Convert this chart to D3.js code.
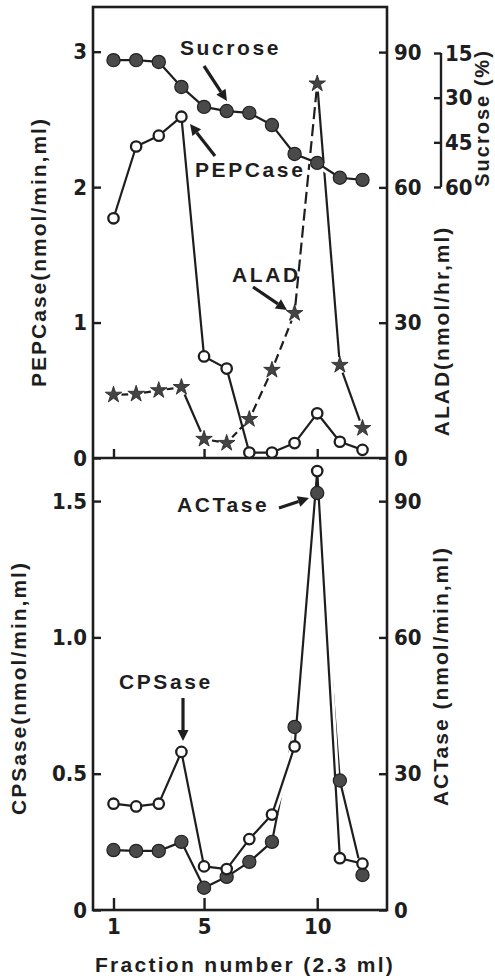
<!DOCTYPE html>
<html>
<head>
  <script src="https://d3js.org/d3.v7.min.js"></script>
  <style>
    body { margin: 0; background: #fff; }
    .axis text {
      font-family: "DejaVu Sans", "Liberation Sans Narrow", sans-serif;
      font-stretch: condensed;
      font-weight: bold;
      font-size: 22px;
      fill: #1e1e1e;
    }
    .axis line { stroke: #1e1e1e; stroke-width: 2.4px; }
    .axis path { display: none; }
    .title {
      font-family: "Liberation Sans", Arial, sans-serif;
      font-weight: bold;
      font-size: 21px;
      letter-spacing: 2px;
      fill: #1e1e1e;
    }
    .note {
      font-family: "Liberation Sans", Arial, sans-serif;
      font-weight: bold;
      font-size: 21px;
      letter-spacing: 2.6px;
      fill: #1e1e1e;
    }
  </style>
</head>
<body>
  <div id="chart"></div>
  <script>
    /*
    DATA (fractions of 2.3 ml)
    */
    var fractions = [1, 2, 3, 4, 5, 6, 7, 8, 9, 10, 11, 12];
    var sucrose  = [17.4, 17.4, 18.0, 26.4, 33.1, 34.5, 35.1, 39.2, 48.9, 51.9, 56.9, 57.6];   // %
    var pepcase  = [1.77, 2.30, 2.38, 2.52, 0.75, 0.66, 0.04, 0.04, 0.11, 0.33, 0.12, 0.06];   // nmol/min,ml
    var alad     = [14.0, 14.2, 15.0, 15.7, 4.2, 3.3, 8.6, 19.5, 32.1, 83.0, 20.6, 6.6];       // nmol/hr,ml
    var cpsase   = [0.39, 0.38, 0.39, 0.58, 0.16, 0.15, 0.26, 0.35, 0.60, 1.61, 0.19, 0.17];   // nmol/min,ml
    var actase   = [13.2, 13.0, 13.0, 15.0, 4.9, 7.3, 10.6, 15.0, 40.3, 91.8, 28.5, 7.7];      // nmol/min,ml

    var xTicks = [1, 5, 10];
    var pepTicks = [0, 1, 2, 3];
    var aladTicks = [0, 30, 60, 90];
    var sucTicks = [15, 30, 45, 60];
    var cpsTicks = [0, 0.5, 1.0, 1.5];
    var actTicks = [0, 30, 60, 90];

    var ink = "#1e1e1e";
    var width = 495, height = 980;
    var frameL = 93, frameR = 387, frameT = 7, frameM = 458, frameB = 910;

    var svg = d3.select("#chart").append("svg")
      .attr("width", width)
      .attr("height", height);

    /*
    SCALES
    */
    var x = d3.scaleLinear().domain([1, 12]).range([113.5, 362.5]);
    var yPep = d3.scaleLinear().domain([0, 3.33]).range([frameM, frameT]);
    var yAlad = d3.scaleLinear().domain([0, 100]).range([frameM, frameT]);
    var ySuc = d3.scaleLinear().domain([15, 60]).range([53, 187]);
    var yCps = d3.scaleLinear().domain([0, 1.658]).range([frameB, frameM]);
    var yAct = d3.scaleLinear().domain([0, 99.5]).range([frameB, frameM]);

    /*
    AXES (ticks point inward)
    */
    svg.append("g").attr("class", "axis")
      .attr("transform", `translate(${frameL},0)`)
      .call(d3.axisLeft(yPep).tickValues(pepTicks).tickSize(-8).tickPadding(6).tickFormat(d3.format("d")));
    svg.append("g").attr("class", "axis")
      .attr("transform", `translate(${frameR},0)`)
      .call(d3.axisRight(yAlad).tickValues(aladTicks).tickSize(-8).tickPadding(7).tickFormat(d3.format("d")));
    svg.append("g").attr("class", "axis")
      .attr("transform", `translate(${frameL},0)`)
      .call(d3.axisLeft(yCps).tickValues(cpsTicks).tickSize(-8).tickPadding(6)
        .tickFormat(function(d) { return d === 0 ? "0" : d3.format(".1f")(d); }));
    svg.append("g").attr("class", "axis")
      .attr("transform", `translate(${frameR},0)`)
      .call(d3.axisRight(yAct).tickValues(actTicks).tickSize(-8).tickPadding(7).tickFormat(d3.format("d")));

    // sucrose bracket axis
    var sucAxis = svg.append("g").attr("class", "axis")
      .attr("transform", "translate(441,0)")
      .call(d3.axisRight(ySuc).tickValues(sucTicks).tickSize(-7).tickPadding(4).tickFormat(d3.format("d")));
    sucAxis.append("line")
      .attr("x1", 0).attr("x2", 0)
      .attr("y1", ySuc(15)).attr("y2", ySuc(60))
      .attr("stroke", ink).attr("stroke-width", 2.4);

    // fraction ticks
    svg.append("g").attr("class", "axis")
      .attr("transform", `translate(0,${frameM})`)
      .call(d3.axisBottom(x).tickValues(xTicks).tickSize(-9).tickFormat(""));
    svg.append("g").attr("class", "axis")
      .attr("transform", `translate(0,${frameB})`)
      .call(d3.axisBottom(x).tickValues(xTicks).tickSize(-12).tickPadding(8).tickFormat(d3.format("d")));

    // frame
    var frame = svg.append("g").attr("stroke", ink).attr("stroke-width", 2.6).attr("fill", "none");
    frame.append("rect").attr("x", frameL).attr("y", frameT).attr("width", frameR - frameL).attr("height", frameB - frameT);
    frame.append("line").attr("x1", frameL).attr("x2", frameR).attr("y1", frameM).attr("y2", frameM);

    /*
    SERIES
    */
    function pts(vals, y) {
      return vals.map(function(v, i) { return [x(fractions[i]), y(v)]; });
    }

    function trim(p, q, g0, g1) {
      var dx = q[0] - p[0], dy = q[1] - p[1], len = Math.sqrt(dx * dx + dy * dy);
      var ux = dx / len, uy = dy / len;
      return [[p[0] + ux * g0, p[1] + uy * g0], [q[0] - ux * g1, q[1] - uy * g1]];
    }

    function drawLine(p, halo) {
      var line = d3.line();
      if (halo) {
        svg.append("path").attr("d", line(p)).attr("fill", "none")
          .attr("stroke", "#fff").attr("stroke-width", 8).attr("stroke-linejoin", "round");
      }
      svg.append("path").attr("d", line(p)).attr("fill", "none")
        .attr("stroke", ink).attr("stroke-width", 2.2).attr("stroke-linejoin", "round");
    }

    function drawFilled(p) {
      svg.append("g").selectAll("circle").data(p).enter().append("circle")
        .attr("cx", function(d) { return d[0]; })
        .attr("cy", function(d) { return d[1]; })
        .attr("r", 6.6)
        .attr("fill", "#4a4a4a")
        .attr("stroke", "#222").attr("stroke-width", 1.2);
    }

    function drawOpen(p) {
      svg.append("g").selectAll("circle").data(p).enter().append("circle")
        .attr("cx", function(d) { return d[0]; })
        .attr("cy", function(d) { return d[1]; })
        .attr("r", 5.2)
        .attr("fill", "#fff")
        .attr("stroke", ink).attr("stroke-width", 2.3);
    }

    // ALAD: broken lines between stars
    var aladPts = pts(alad, yAlad);
    var aladDash = ["", "", "", "", "", "7,4", "9,5", "9,5", "12,5", "", ""];
    for (var i = 0; i < aladPts.length - 1; i++) {
      var s = trim(aladPts[i], aladPts[i + 1], 8, 8);
      svg.append("line")
        .attr("x1", s[0][0]).attr("y1", s[0][1])
        .attr("x2", s[1][0]).attr("y2", s[1][1])
        .attr("stroke", ink).attr("stroke-width", 2.2)
        .attr("stroke-dasharray", aladDash[i] || null);
    }

    // PEPCase
    var pepPts = pts(pepcase, yPep);
    drawLine(pepPts, false);

    // Sucrose (drawn over the others with a white halo)
    var sucPts = pts(sucrose, ySuc);
    drawLine(sucPts, true);

    svg.append("g").selectAll("path").data(aladPts).enter().append("path")
      .attr("transform", function(d) { return `translate(${d[0]},${d[1]})`; })
      .attr("d", d3.symbol(d3.symbolStar).size(85)())
      .attr("fill", "#444").attr("stroke", "#222").attr("stroke-width", 0.8);
    drawOpen(pepPts);
    drawFilled(sucPts);

    // bottom panel
    var actPts = pts(actase, yAct);
    var cpsPts = pts(cpsase, yCps);
    drawLine(actPts, true);
    drawLine(cpsPts, true);
    drawFilled(actPts);
    drawOpen(cpsPts);

    /*
    AXIS TITLES
    */
    function vTitle(txt, cx, cy) {
      return svg.append("text").attr("class", "title")
        .attr("transform", `translate(${cx},${cy}) rotate(-90)`)
        .attr("text-anchor", "middle")
        .attr("dy", "0.36em")
        .text(txt);
    }
    vTitle("PEPCase(nmol/min,ml)", 38, 252);
    vTitle("ALAD(nmol/hr,ml)", 441, 331);
    vTitle("Sucrose (%)", 482, 118).style("font-size", "20px");
    vTitle("CPSase(nmol/min,ml)", 18, 688);
    vTitle("ACTase (nmol/min,ml)", 440, 676);

    svg.append("text").attr("class", "title")
      .attr("x", 245).attr("y", 972)
      .attr("text-anchor", "middle")
      .style("letter-spacing", "2.3px")
      .text("Fraction number (2.3 ml)");

    /*
    ANNOTATIONS
    */
    function note(txt, tx, ty) {
      svg.append("text").attr("class", "note").attr("x", tx).attr("y", ty).text(txt);
    }

    function arrow(x1, y1, x2, y2) {
      var dx = x2 - x1, dy = y2 - y1, len = Math.sqrt(dx * dx + dy * dy);
      var ux = dx / len, uy = dy / len, hl = 11, hw = 5.5;
      var bx = x2 - ux * hl, by = y2 - uy * hl;
      svg.append("line")
        .attr("x1", x1).attr("y1", y1).attr("x2", bx).attr("y2", by)
        .attr("stroke", ink).attr("stroke-width", 3.2);
      svg.append("polygon")
        .attr("points", [[x2, y2], [bx - uy * hw, by + ux * hw], [bx + uy * hw, by - ux * hw]].join(" "))
        .attr("fill", ink);
    }

    note("Sucrose", 180, 55);
    arrow(204, 66, 227, 101);

    note("PEPCase", 195, 177);
    arrow(215, 156, 190, 124);

    note("ALAD", 232, 282);
    arrow(253, 287, 287, 310);

    note("ACTase", 177, 512);
    arrow(279, 508, 309, 498);

    note("CPSase", 119, 689);
    arrow(183, 698, 183, 741);
  </script>
</body>
</html>
